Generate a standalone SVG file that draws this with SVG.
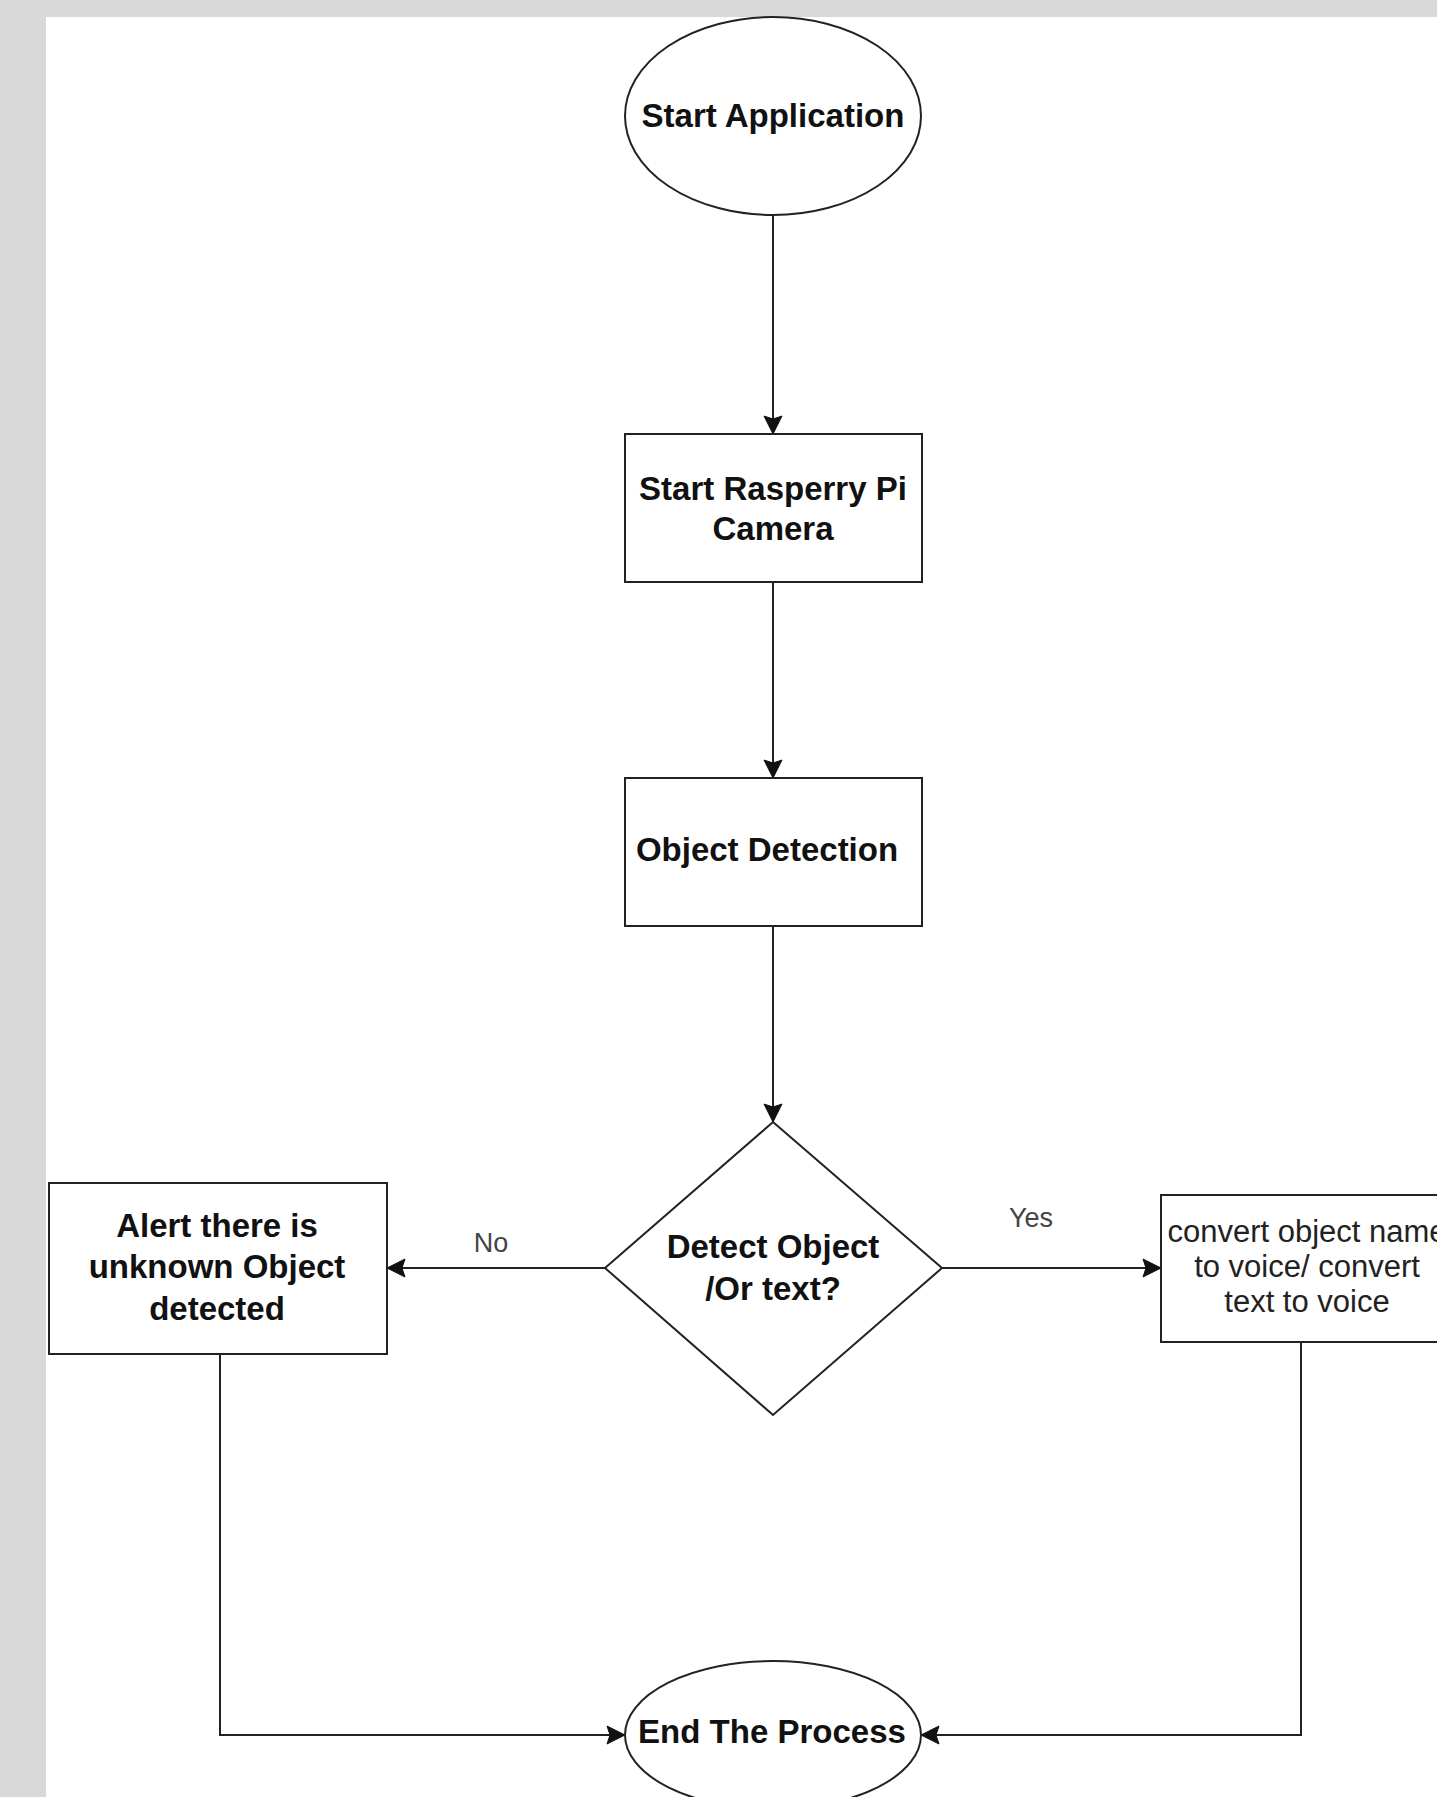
<svg xmlns="http://www.w3.org/2000/svg" width="1437" height="1797" viewBox="0 0 1437 1797">
  <style>
    .shape { fill: #ffffff; stroke: #222222; stroke-width: 2; }
    .edge { fill: none; stroke: #222222; stroke-width: 2; }
    .bold { font-family: "Liberation Sans", Arial, sans-serif; font-weight: bold; font-size: 33px; fill: #111111; text-anchor: middle; }
    .reg { font-family: "Liberation Sans", Arial, sans-serif; font-size: 31px; fill: #222222; text-anchor: middle; }
    .lbl { font-family: "Liberation Sans", Arial, sans-serif; font-size: 27px; fill: #444444; text-anchor: middle; }
  </style>
  <defs>
    <marker id="arrow" viewBox="-20 -10 22 20" refX="0" refY="0" markerWidth="22" markerHeight="20" markerUnits="userSpaceOnUse" orient="auto">
      <path d="M0,0 L-18,-9 L-15,0 L-18,9 Z" fill="#111111" stroke="#111111" stroke-width="1" stroke-linejoin="miter"/>
    </marker>
  </defs>
  <rect x="0" y="0" width="1437" height="1797" fill="#d9d9d9"/>
  <rect x="46" y="17" width="1391" height="1780" fill="#ffffff"/>

  <g id="connectors">
    <line class="edge" x1="773" y1="215" x2="773" y2="434" marker-end="url(#arrow)"/>
    <line class="edge" x1="773" y1="582" x2="773" y2="778" marker-end="url(#arrow)"/>
    <line class="edge" x1="773" y1="926" x2="773" y2="1122" marker-end="url(#arrow)"/>
    <line class="edge" x1="605" y1="1268" x2="387" y2="1268" marker-end="url(#arrow)"/>
    <line class="edge" x1="942" y1="1268" x2="1161" y2="1268" marker-end="url(#arrow)"/>
    <polyline class="edge" points="220,1354 220,1735 625,1735" marker-end="url(#arrow)"/>
    <polyline class="edge" points="1301,1342 1301,1735 921,1735" marker-end="url(#arrow)"/>
    <text class="lbl" x="491" y="1252">No</text>
    <text class="lbl" x="1031" y="1227">Yes</text>
  </g>

  <g id="start">
    <ellipse class="shape" cx="773" cy="116" rx="148" ry="99"/>
    <text class="bold" x="773" y="127">Start Application</text>
  </g>

  <g id="camera">
    <rect class="shape" x="625" y="434" width="297" height="148"/>
    <text class="bold" x="773" y="500">Start Rasperry Pi</text>
    <text class="bold" x="773" y="540">Camera</text>
  </g>

  <g id="detection">
    <rect class="shape" x="625" y="778" width="297" height="148"/>
    <text class="bold" x="767" y="861">Object Detection</text>
  </g>

  <g id="decision">
    <polygon class="shape" points="773,1122 942,1268 773,1415 605,1268"/>
    <text class="bold" x="773" y="1258">Detect Object</text>
    <text class="bold" x="773" y="1300">/Or text?</text>
  </g>

  <g id="alert">
    <rect class="shape" x="49" y="1183" width="338" height="171"/>
    <text class="bold" x="217" y="1237">Alert there is</text>
    <text class="bold" x="217" y="1278">unknown Object</text>
    <text class="bold" x="217" y="1320">detected</text>
  </g>

  <g id="convert">
    <rect class="shape" x="1161" y="1195" width="292" height="147"/>
    <text class="reg" x="1307" y="1242">convert object name</text>
    <text class="reg" x="1307" y="1277">to voice/ convert</text>
    <text class="reg" x="1307" y="1312">text to voice</text>
  </g>

  <g id="end">
    <ellipse class="shape" cx="773" cy="1735" rx="148" ry="74"/>
    <text class="bold" x="772" y="1743">End The Process</text>
  </g>
</svg>
